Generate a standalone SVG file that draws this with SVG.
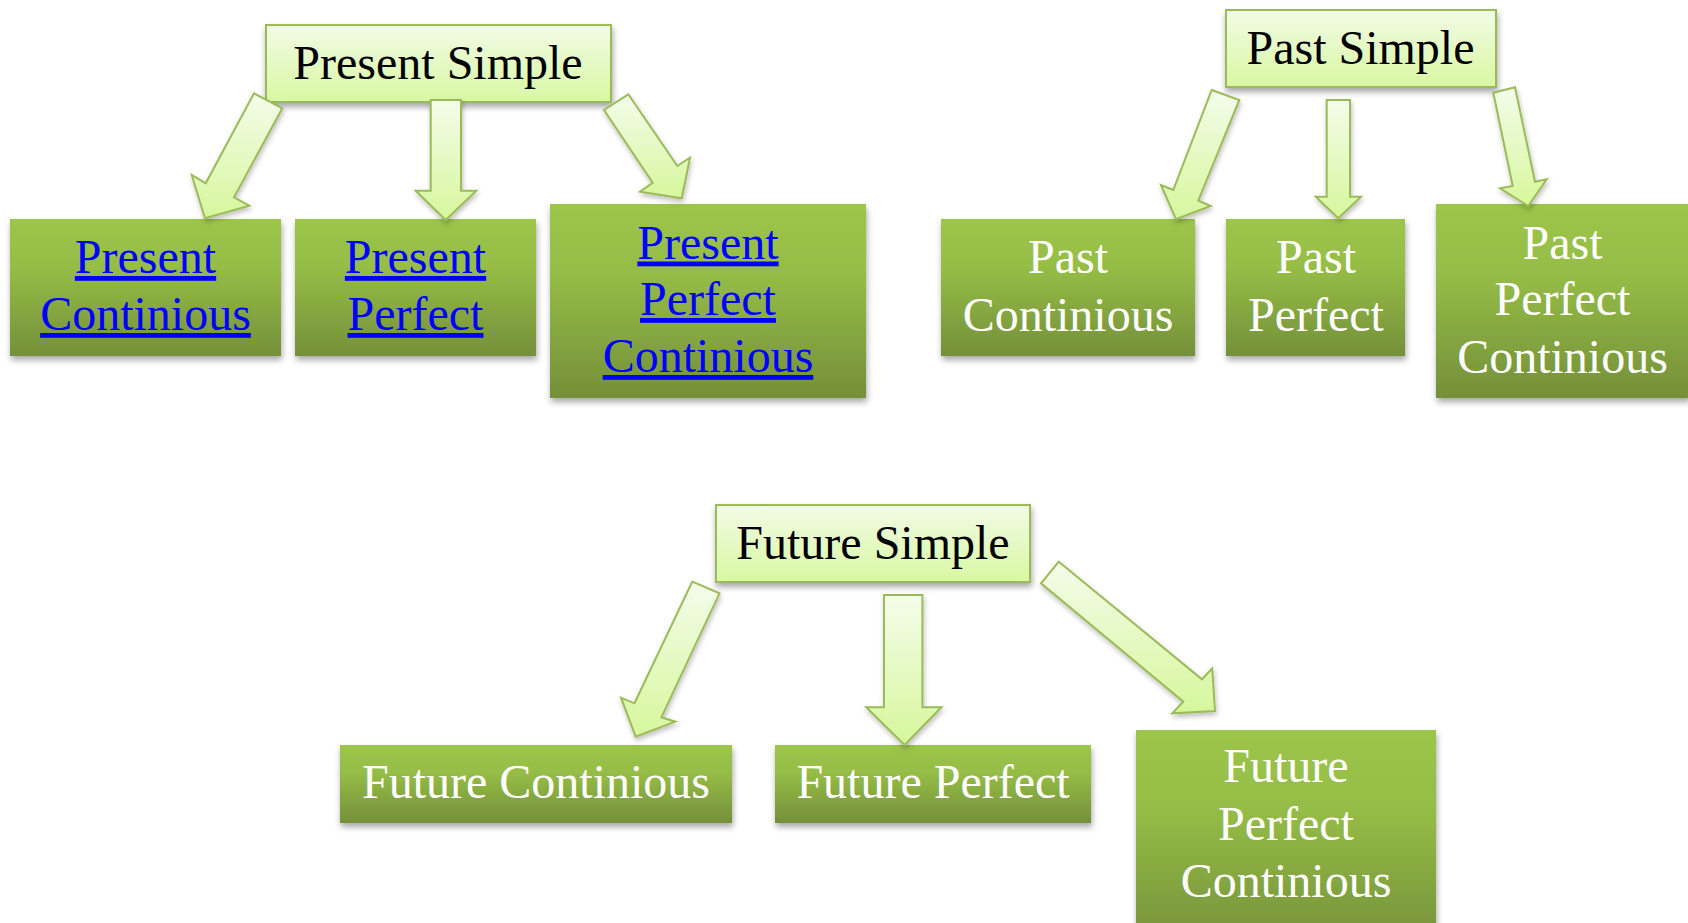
<svg xmlns="http://www.w3.org/2000/svg" width="1688" height="923" viewBox="0 0 1688 923">
<style>
.top{fill:url(#gTop);stroke:#9bbb59;stroke-width:2;filter:url(#sh)}
.child{fill:url(#gChild);filter:url(#sh)}
.arr{fill:url(#gArr);stroke:#9bbb59;stroke-width:2;stroke-linejoin:miter;filter:url(#shA)}
text{font-family:"Liberation Serif","Times New Roman",serif;font-size:48px;text-anchor:middle}
.tt{fill:#000}
.lk{fill:#0000ff;text-decoration:underline}
.wt{fill:#ffffff}
</style>
<defs>
<linearGradient id="gTop" x1="0" y1="0" x2="0" y2="1">
<stop offset="0" stop-color="#f2fbe6"/>
<stop offset="1" stop-color="#d8f8a2"/>
</linearGradient>
<linearGradient id="gChild" x1="0" y1="0" x2="0" y2="1">
<stop offset="0" stop-color="#9cc54b"/>
<stop offset="0.35" stop-color="#96bd46"/>
<stop offset="1" stop-color="#74903a"/>
</linearGradient>
<linearGradient id="gArr" x1="0" y1="0" x2="0" y2="1">
<stop offset="0" stop-color="#f4fcea"/>
<stop offset="1" stop-color="#d6f79c"/>
</linearGradient>
<filter id="sh" x="-10%" y="-10%" width="125%" height="130%">
<feDropShadow dx="1" dy="4" stdDeviation="3" flood-color="#000" flood-opacity="0.35"/>
</filter>
<filter id="shA" x="-20%" y="-20%" width="140%" height="140%">
<feDropShadow dx="1" dy="3" stdDeviation="2.5" flood-color="#000" flood-opacity="0.25"/>
</filter>
</defs>
<rect width="1688" height="923" fill="#ffffff"/>

<g id="present-simple"><rect class="top" x="266" y="25" width="345" height="77"/><text class="tt" x="438" y="79">Present Simple</text></g>
<g id="past-simple"><rect class="top" x="1226" y="10" width="270" height="77"/><text class="tt" x="1360.5" y="63.5">Past Simple</text></g>
<g id="future-simple"><rect class="top" x="716" y="505" width="314" height="77"/><text class="tt" x="873" y="559">Future Simple</text></g>

<g id="present-continious"><rect class="child" x="10" y="219" width="271" height="137"/><text class="lk" x="145.5" y="273">Present</text><text class="lk" x="145.5" y="330">Continious</text></g>
<g id="present-perfect"><rect class="child" x="295" y="219" width="241" height="137"/><text class="lk" x="415.5" y="273">Present</text><text class="lk" x="415.5" y="330">Perfect</text></g>
<g id="present-perfect-continious"><rect class="child" x="550" y="204" width="316" height="194"/><text class="lk" x="708" y="258.5">Present</text><text class="lk" x="708" y="315">Perfect</text><text class="lk" x="708" y="372">Continious</text></g>

<g id="past-continious"><rect class="child" x="941" y="219" width="254" height="137"/><text class="wt" x="1068" y="273">Past</text><text class="wt" x="1068" y="331">Continious</text></g>
<g id="past-perfect"><rect class="child" x="1226" y="219" width="179" height="137"/><text class="wt" x="1316" y="273">Past</text><text class="wt" x="1316" y="331">Perfect</text></g>
<g id="past-perfect-continious"><rect class="child" x="1436" y="204" width="254" height="194"/><text class="wt" x="1562.5" y="258.5">Past</text><text class="wt" x="1562.5" y="315">Perfect</text><text class="wt" x="1562.5" y="372.5">Continious</text></g>

<g id="future-continious"><rect class="child" x="340" y="745" width="392" height="78"/><text class="wt" x="536" y="797.5">Future Continious</text></g>
<g id="future-perfect"><rect class="child" x="775" y="745" width="316" height="78"/><text class="wt" x="933" y="797.5">Future Perfect</text></g>
<g id="future-perfect-continious"><rect class="child" x="1136" y="730" width="300" height="220"/><text class="wt" x="1286" y="782">Future</text><text class="wt" x="1286" y="840">Perfect</text><text class="wt" x="1286" y="897">Continious</text></g>

<g id="connectors">
<polygon class="arr" points="254,93.3 282.3,108.3 234,197.3 249.3,205.7 205,218.3 191.7,175 205.7,183.3"/>
<polygon class="arr" points="430.7,100 461,100 461,190.7 476.3,190.7 445.7,220 415.7,190.7 430.7,190.7"/>
<polygon class="arr" points="628.3,94.3 677.3,166 690,157.7 681.7,198.3 640,191.7 652.7,182.7 604,110"/>
<polygon class="arr" points="1211.7,90 1239.3,100 1198.3,200.7 1210.7,206 1176,219.3 1161,185 1173.3,190"/>
<polygon class="arr" points="1326.7,100 1350,100 1350,196.7 1361,196.7 1338.3,218.3 1315.7,196.7 1326.7,196.7"/>
<polygon class="arr" points="1493.3,92.7 1515,87.3 1535,181.7 1546.7,179.3 1528.3,206 1500,188.3 1512.7,186"/>
<polygon class="arr" points="692.2,581.7 719.5,593.3 661.4,717.3 675.2,721.7 635.7,736.7 621,697.7 634.5,703.3"/>
<polygon class="arr" points="884,595 922.4,595 922.4,707.3 941.4,707.3 904.6,745 866.2,707.3 884,707.3"/>
<polygon class="arr" points="1058.8,561.7 1202,679.3 1212.2,668.3 1215,711 1172.3,713.3 1183.3,701.7 1041,583.3"/>
</g>
</svg>
